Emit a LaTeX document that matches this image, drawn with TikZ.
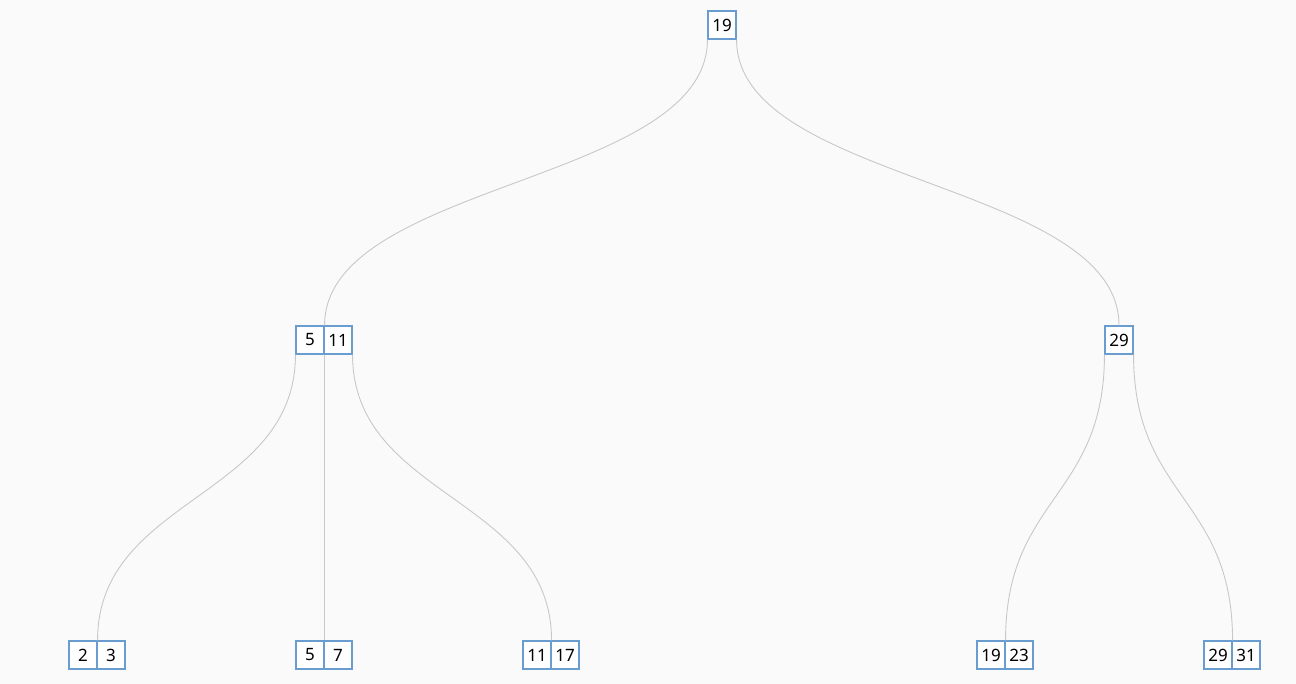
\documentclass[tikz,border=0pt]{standalone}
\usepackage{fontspec}
\setmainfont{Noto Sans}
\definecolor{bg}{HTML}{FAFAFA}
\definecolor{cellline}{HTML}{6A9DCF}
\definecolor{edge}{HTML}{C8C8C8}
\begin{document}
\begin{tikzpicture}[x=1pt,y=-1pt,
  cell/.style={draw=cellline,fill=white,line width=1.1pt,minimum width=28pt,minimum height=28pt,inner sep=0pt,font=\fontsize{17}{17}\selectfont},
  link/.style={draw=edge,line width=0.9pt}]
\fill[bg] (0,0) rectangle (1296,684);
\useasboundingbox (0,0) rectangle (1296,684);
% root
\node[cell] (r) at (722,25) {19};
% level 2
\node[cell] (a1) at (310,340) {5};
\node[cell] (a2) at (338,340) {11};
\node[cell] (b1) at (1119,340) {29};
% leaves
\node[cell] (l1) at (83,655) {2};
\node[cell] (l2) at (111,655) {3};
\node[cell] (m1) at (310,655) {5};
\node[cell] (m2) at (338,655) {7};
\node[cell] (n1) at (537,655) {11};
\node[cell] (n2) at (565,655) {17};
\node[cell] (p1) at (991,655) {19};
\node[cell] (p2) at (1019,655) {23};
\node[cell] (q1) at (1218,655) {29};
\node[cell] (q2) at (1246,655) {31};
% edges
\draw[link] (r.south west) .. controls +(0,143.5) and +(0,-143.5) .. (a1.north east);
\draw[link] (r.south east) .. controls +(0,143.5) and +(0,-143.5) .. (b1.north);
\draw[link] (a1.south west) .. controls +(0,143.5) and +(0,-143.5) .. (l1.north east);
\draw[link] (a1.south east) -- (m1.north east);
\draw[link] (a2.south east) .. controls +(0,143.5) and +(0,-143.5) .. (n1.north east);
\draw[link] (b1.south west) .. controls +(0,143.5) and +(0,-143.5) .. (p1.north east);
\draw[link] (b1.south east) .. controls +(0,143.5) and +(0,-143.5) .. (q1.north east);
\end{tikzpicture}
\end{document}
